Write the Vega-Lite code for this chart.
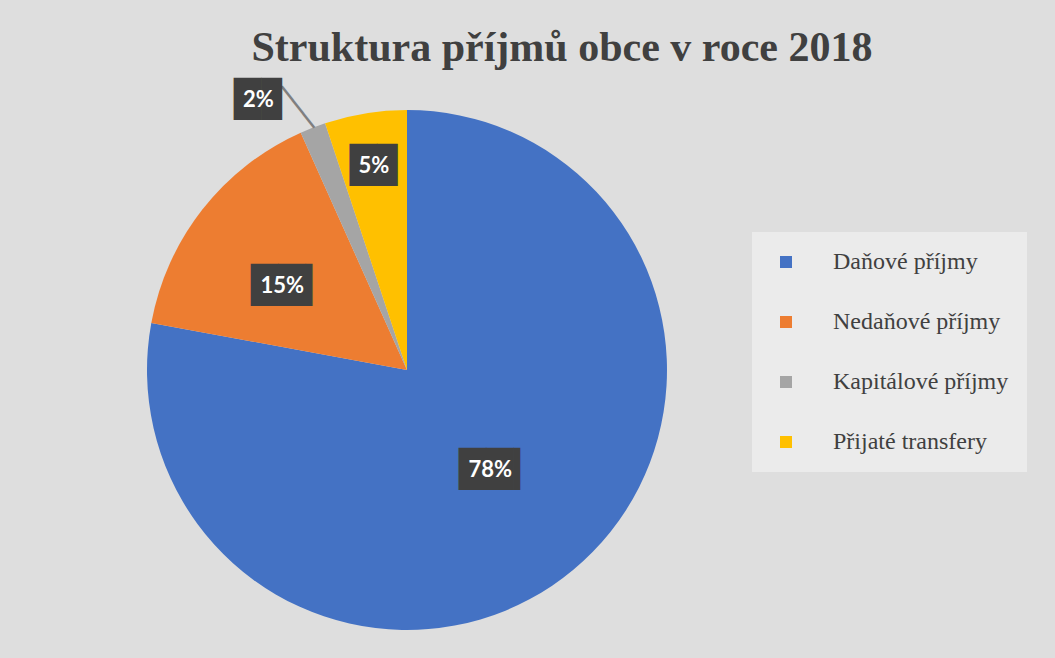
{
  "$schema": "https://vega.github.io/schema/vega-lite/v6.json",
  "width": 520,
  "height": 520,
  "autosize": {"type": "none"},
  "padding": {"left": 147, "top": 110, "right": 388, "bottom": 28},
  "background": "#dedede",
  "view": {"stroke": null},
  "title": {
    "text": "Struktura příjmů obce v roce 2018",
    "font": "Liberation Serif",
    "fontSize": 42,
    "fontWeight": "bold",
    "color": "#404040",
    "anchor": "middle",
    "dx": 155,
    "offset": 8
  },
  "data": {
    "values": [
      {"kategorie": "Daňové příjmy", "podil": 77.9, "poradi": 1, "popisek": "78%", "box": "██▎"},
      {"kategorie": "Nedaňové příjmy", "podil": 15.4, "poradi": 2, "popisek": "15%", "box": "██▎"},
      {"kategorie": "Kapitálové příjmy", "podil": 1.6, "poradi": 3, "popisek": "2%", "box": "█▊"},
      {"kategorie": "Přijaté transfery", "podil": 5.1, "poradi": 4, "popisek": "5%", "box": "█▊"}
    ]
  },
  "encoding": {
    "theta": {"field": "podil", "type": "quantitative", "stack": true},
    "order": {"field": "poradi", "type": "quantitative"}
  },
  "layer": [
    {
      "mark": {"type": "arc"},
      "encoding": {
        "color": {
          "field": "kategorie",
          "type": "nominal",
          "sort": ["Daňové příjmy", "Nedaňové příjmy", "Kapitálové příjmy", "Přijaté transfery"],
          "scale": {
            "domain": ["Daňové příjmy", "Nedaňové příjmy", "Kapitálové příjmy", "Přijaté transfery"],
            "range": ["#4472C4", "#ED7D31", "#A5A5A5", "#FFC000"]
          },
          "legend": {
            "orient": "none",
            "legendX": 605,
            "legendY": 122,
            "title": null,
            "fillColor": "#ebebeb",
            "padding": 18,
            "labelFont": "Liberation Serif",
            "labelFontSize": 24,
            "labelColor": "#404040",
            "symbolType": "square",
            "symbolSize": 144,
            "symbolStrokeWidth": 0,
            "symbolOffset": 4,
            "rowPadding": 36,
            "labelOffset": 35,
            "labelLimit": 400
          }
        }
      }
    },
    {
      "transform": [{"calculate": "datum.poradi == 3 ? '───' : ''", "as": "linka"}],
      "mark": {
        "type": "text",
        "font": "DejaVu Sans",
        "fontSize": 29,
        "color": "#7f7f7f",
        "baseline": "middle",
        "align": "center",
        "angle": 52,
        "dx": -1.6,
        "dy": 7.2
      },
      "encoding": {
        "text": {"field": "linka"},
        "radius": {"value": 285}
      }
    },
    {
      "mark": {
        "type": "text",
        "font": "DejaVu Sans",
        "fontSize": 35.6,
        "color": "#404040",
        "baseline": "middle",
        "align": "left",
        "dx": {"expr": "datum.poradi == 1 ? -31.5 : datum.poradi == 2 ? -41.5 : datum.poradi == 3 ? -64.5 : -24.5"},
        "dy": {"expr": "datum.poradi == 2 ? 6 : datum.poradi == 3 ? 10 : 0"}
      },
      "encoding": {
        "text": {"field": "box"},
        "radius": {"value": {"expr": "datum.poradi == 1 ? 130 : datum.poradi == 2 ? 146 : datum.poradi == 3 ? 300 : 207"}}
      }
    },
    {
      "mark": {
        "type": "text",
        "font": "Lato",
        "fontSize": 22,
        "fontWeight": "bold",
        "color": "white",
        "baseline": "middle",
        "align": "center",
        "dx": {"expr": "datum.poradi == 2 ? -10 : datum.poradi == 3 ? -40 : 0"},
        "dy": {"expr": "datum.poradi == 2 ? 6 : datum.poradi == 3 ? 10 : 0"}
      },
      "encoding": {
        "text": {"field": "popisek"},
        "radius": {"value": {"expr": "datum.poradi == 1 ? 130 : datum.poradi == 2 ? 146 : datum.poradi == 3 ? 300 : 207"}}
      }
    }
  ]
}
